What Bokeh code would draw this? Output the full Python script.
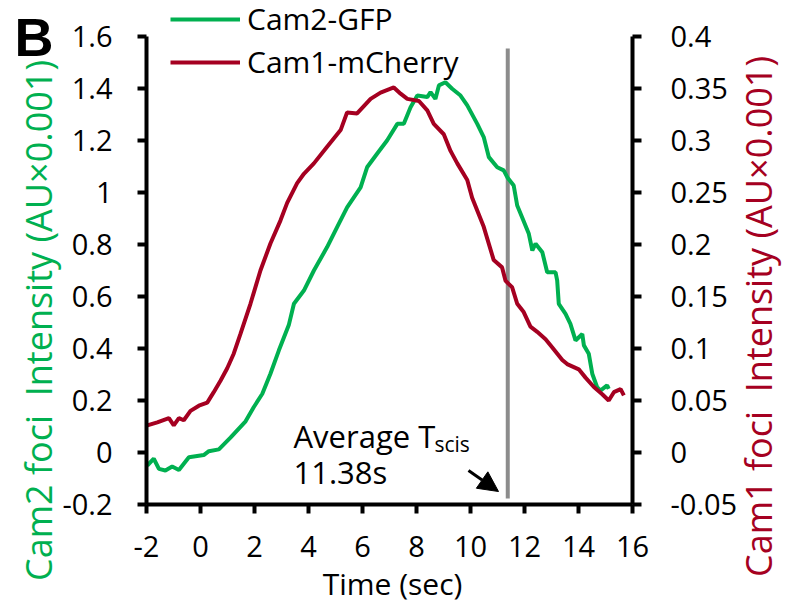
from bokeh.plotting import figure
from bokeh.models import (Range1d, LinearAxis, FixedTicker, CustomJSTickFormatter,
                          Label, Legend, LegendItem, Arrow, NormalHead)
from bokeh.embed import file_html
from bokeh.resources import INLINE
import math

# ---------------- data ----------------
green_time = [-1.97, -1.73, -1.54, -1.30, -1.05, -0.80, -0.43, 0.12, 0.31, 0.68, 1.11, 1.67,
              1.97, 2.29, 2.59, 2.90, 3.27, 3.46, 3.83, 4.20, 4.69, 5.06, 5.43, 5.93, 6.17,
              6.54, 6.91, 7.29, 7.53, 7.78, 8.03, 8.40, 8.52, 8.70, 8.83, 9.07, 9.32, 9.63,
              9.88, 10.25, 10.49, 10.68, 10.99, 11.23, 11.36, 11.60, 11.73, 11.91, 12.16,
              12.29, 12.41, 12.66, 12.84, 13.15, 13.21, 13.27, 13.52, 13.70, 13.89, 14.14,
              14.20, 14.38, 14.51, 14.69, 14.81, 15.06, 15.12]
green_intensity = [-0.050, -0.024, -0.063, -0.069, -0.054, -0.067, -0.018, -0.010, 0.005,
                   0.012, 0.057, 0.120, 0.174, 0.226, 0.303, 0.392, 0.490, 0.572, 0.623,
                   0.700, 0.790, 0.867, 0.943, 1.020, 1.097, 1.149, 1.200, 1.264, 1.264,
                   1.328, 1.373, 1.367, 1.386, 1.360, 1.412, 1.424, 1.399, 1.373, 1.335,
                   1.264, 1.213, 1.136, 1.097, 1.085, 1.059, 1.027, 0.950, 0.905, 0.841,
                   0.777, 0.803, 0.770, 0.693, 0.693, 0.662, 0.572, 0.533, 0.495, 0.431,
                   0.456, 0.412, 0.380, 0.303, 0.251, 0.238, 0.258, 0.245]

red_time = [-1.97, -1.60, -1.17, -0.99, -0.80, -0.62, -0.37, -0.06, 0.25, 0.49, 0.74, 0.99,
            1.23, 1.48, 1.85, 2.22, 2.59, 2.96, 3.21, 3.58, 3.83, 4.20, 4.69, 5.19, 5.43,
            5.80, 6.30, 6.67, 7.16, 7.41, 7.66, 8.09, 8.40, 8.64, 9.01, 9.26, 9.51, 9.88,
            10.06, 10.49, 10.86, 11.17, 11.30, 11.54, 11.73, 11.97, 12.22, 12.47, 12.78,
            13.03, 13.40, 13.58, 14.01, 14.26, 14.57, 14.88, 15.12, 15.31, 15.56, 15.68]
red_intensity = [0.026, 0.029, 0.033, 0.026, 0.033, 0.031, 0.040, 0.045, 0.048, 0.058, 0.069,
                 0.081, 0.095, 0.114, 0.143, 0.175, 0.201, 0.223, 0.240, 0.259, 0.268, 0.278,
                 0.294, 0.310, 0.327, 0.326, 0.340, 0.346, 0.351, 0.345, 0.340, 0.338, 0.329,
                 0.316, 0.306, 0.290, 0.278, 0.262, 0.245, 0.217, 0.185, 0.178, 0.165, 0.159,
                 0.143, 0.135, 0.121, 0.116, 0.109, 0.101, 0.089, 0.085, 0.080, 0.072, 0.063,
                 0.056, 0.050, 0.058, 0.061, 0.055]

x_ticks = [-2, 0, 2, 4, 6, 8, 10, 12, 14, 16]
left_ticks = [-0.2, 0, 0.2, 0.4, 0.6, 0.8, 1, 1.2, 1.4, 1.6]
right_ticks = [-0.05, 0, 0.05, 0.1, 0.15, 0.2, 0.25, 0.3, 0.35, 0.4]
t_scis = 11.38
series_names = ["Cam2-GFP", "Cam1-mCherry"]

# ---------------- layout / style ----------------
W, H = 785, 610
FL, FR, FT, FB = 146, 632, 36, 504          # where the axes sit, in pixels
X0, X1 = -2, 16
Y0, Y1 = -0.2, 1.6
RY0, RY1 = -0.05, 0.4
GREEN = "#00b050"
RED = "#a50021"
FONT = "Open Sans"

xs = (X1 - X0) / (FR - FL)
ys = (Y1 - Y0) / (FB - FT)
rys = (RY1 - RY0) / (FB - FT)


def dx(px):
    return X0 + (px - FL) * xs


def dy(py):
    return Y1 - (py - FT) * ys


p = figure(width=W, height=H,
           x_range=Range1d(dx(0), dx(W)), y_range=Range1d(dy(H), dy(0)),
           x_axis_location=None, y_axis_location=None,
           output_backend="svg", toolbar_location=None,
           min_border=0, min_border_left=0, min_border_right=0,
           min_border_top=0, min_border_bottom=0)
p.extra_y_ranges = {"r": Range1d(RY0 - (H - FB) * rys, RY1 + FT * rys)}
for gr in p.grid:
    gr.visible = False
p.outline_line_color = None
p.background_fill_color = "white"
p.border_fill_color = "white"

fmt = CustomJSTickFormatter(code="return (Math.round(tick*1000)/1000).toString();")


def style_axis(ax, ticks, standoff):
    ax.ticker = FixedTicker(ticks=ticks)
    ax.formatter = fmt
    ax.axis_line_color = "black"
    ax.axis_line_width = 4
    ax.major_tick_line_color = "black"
    ax.major_tick_line_width = 4
    ax.major_tick_out = 9
    ax.major_tick_in = 0
    ax.minor_tick_line_color = None
    ax.major_label_text_font = FONT
    ax.major_label_text_font_size = "29px"
    ax.major_label_text_color = "black"
    ax.major_label_standoff = standoff


xaxis = LinearAxis(fixed_location=Y0, bounds=(X0, X1))
style_axis(xaxis, x_ticks, 22)
p.add_layout(xaxis, "below")

laxis = LinearAxis(fixed_location=X0, bounds=(Y0, Y1))
style_axis(laxis, left_ticks, 25)
p.add_layout(laxis, "left")

raxis = LinearAxis(y_range_name="r", fixed_location=X1, bounds=(RY0, RY1))
style_axis(raxis, right_ticks, 29)
p.add_layout(raxis, "right")

# vertical line at average scission time
p.segment(x0=[t_scis], y0=[dy(498)], x1=[t_scis], y1=[dy(48)],
          line_color="#8c8c8c", line_width=4)

g = p.line(green_time, green_intensity, line_color=GREEN, line_width=4)
r = p.line(red_time, red_intensity, line_color=RED, line_width=4, y_range_name="r")

legend = Legend(items=[LegendItem(label=series_names[0], renderers=[g]),
                       LegendItem(label=series_names[1], renderers=[r])],
                location=(170, H - 82), orientation="vertical",
                glyph_width=70, glyph_height=30, label_height=30, label_standoff=7,
                spacing=2, padding=0, margin=0, border_line_color=None,
                background_fill_alpha=0, label_text_font=FONT,
                label_text_font_size="30px", label_text_color="black")
p.add_layout(legend)

# axis titles
p.add_layout(Label(x=dx(38), y=dy(320), text="Cam2 foci\u00a0 Intensity (AU×0.001)",
                   angle=math.pi / 2, text_align="center", text_baseline="middle",
                   text_font=FONT, text_font_size="36px", text_color=GREEN))
p.add_layout(Label(x=dx(758), y=dy(316), text="Cam1 foci\u00a0 Intensity (AU×0.001)",
                   angle=math.pi / 2, text_align="center", text_baseline="middle",
                   text_font=FONT, text_font_size="36px", text_color=RED))
p.add_layout(Label(x=dx(392), y=dy(583), text="Time (sec)", text_align="center",
                   text_baseline="alphabetic", text_font=FONT, text_font_size="30px",
                   text_color="black"))

# panel letter
p.add_layout(Label(x=dx(14), y=dy(36), text="B", text_align="left",
                   text_baseline="alphabetic", text_font="Liberation Sans",
                   text_font_style="bold", text_font_size="54px", text_color="black"))

# annotation
p.add_layout(Label(x=dx(293), y=dy(435), text="Average T", text_align="left",
                   text_baseline="alphabetic", text_font=FONT, text_font_size="31px",
                   text_color="black"))
p.add_layout(Label(x=dx(434), y=dy(443), text="scis", text_align="left",
                   text_baseline="alphabetic", text_font=FONT, text_font_size="21px",
                   text_color="black"))
p.add_layout(Label(x=dx(293), y=dy(471), text="%.2fs" % t_scis, text_align="left",
                   text_baseline="alphabetic", text_font=FONT, text_font_size="31px",
                   text_color="black"))
p.add_layout(Arrow(x_start=dx(468), y_start=dy(470), x_end=dx(498), y_end=dy(491),
                   line_color="black", line_width=3,
                   end=NormalHead(size=20, fill_color="black", line_color="black")))

open("out.html", "w").write(file_html(p, INLINE))
